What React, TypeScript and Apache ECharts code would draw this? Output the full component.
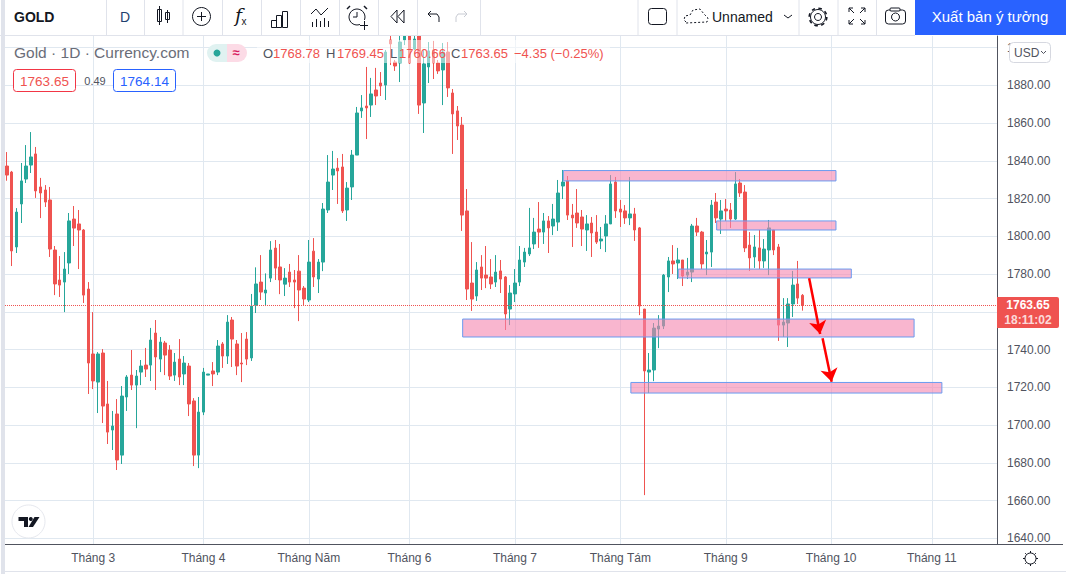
import React, { useEffect, useRef } from "react";
import * as echarts from "echarts";

const opens = [
  1837.3, 1834.1, 1794.4, 1817.2, 1830.4, 1837.8, 1843.7, 1826.2, 1824.6, 1819.3,
  1792.8, 1776.9, 1775.8, 1785.9, 1809.2, 1806.6, 1803.4, 1772.1, 1737.7, 1722.8,
  1738.2, 1711.2, 1697.4, 1705.9, 1684.1, 1714.9, 1726.5, 1721.2, 1728.1, 1731.8,
  1731.8, 1748.8, 1735, 1743.5, 1739.8, 1726.5, 1735, 1727.1, 1731.3, 1712.8,
  1684.1, 1706.9, 1726.5, 1728.7, 1728.1, 1743, 1736.6, 1755.7, 1743, 1732.9,
  1745.6, 1735.6, 1763.5, 1775.8, 1770, 1777.9, 1793.8, 1783.8, 1774.7, 1781.1,
  1776.9, 1781.6, 1772.6, 1766.3, 1792.2, 1777.4, 1786.4, 1814, 1832.5, 1836.2,
  1836.8, 1814, 1826.2, 1843.1, 1866.5, 1869.1, 1869.6, 1877.6, 1881.3, 1880.2,
  1904.1, 1892.4, 1891.9, 1904.1, 1907.3, 1899.3, 1909.4, 1870.7, 1889.8, 1898.8,
  1891.9, 1888.2, 1897.7, 1876, 1866.5, 1859, 1813.5, 1775.3, 1768.4, 1783.8,
  1779.5, 1778.5, 1775.8, 1781.7, 1778.5, 1761.5, 1769.5, 1775.8, 1786.4, 1790.7,
  1796, 1803.9, 1802.3, 1808.2, 1805.5, 1807.6, 1826.7, 1829.4, 1811.3, 1812.4,
  1810.3, 1803.4, 1807.1, 1802.3, 1797.6, 1800.2, 1806.6, 1828.8, 1814.5, 1813.5,
  1809.8, 1811.9, 1804.5, 1761.5, 1728.1, 1729.2, 1750.9, 1752.5, 1778.5, 1787,
  1785.9, 1787.5, 1779.5, 1781.1, 1805.5, 1802.3, 1790.7, 1791.7, 1818.2, 1809.2,
  1814.5, 1814, 1809.2, 1828.3, 1823.5, 1795.4, 1789.1, 1793.9, 1787, 1792.8,
  1803.4, 1794.4, 1753, 1754.1, 1764.2, 1774.8, 1768.78,
];
const closes = [
  1832.5, 1792.3, 1812.9, 1829.4, 1837.3, 1842.1, 1824.1, 1823, 1818.2, 1793.3,
  1774.8, 1774.2, 1782.7, 1808.2, 1804.4, 1803.4, 1768.9, 1732.9, 1723.4, 1737.7,
  1710.1, 1696.3, 1699.5, 1681.5, 1715.4, 1725.5, 1721.2, 1726, 1731.3, 1729.7,
  1745.1, 1736.1, 1744, 1737.1, 1726, 1733.4, 1725.5, 1732.9, 1711.2, 1684.1,
  1706.9, 1728.1, 1727.1, 1727.1, 1741.9, 1736.6, 1754.6, 1745.6, 1731.3, 1732.4,
  1735, 1763.1, 1774.8, 1770.5, 1771.6, 1792.8, 1783.2, 1776.9, 1777.9, 1775.8,
  1775.8, 1771.6, 1766.8, 1786.4, 1778.5, 1786.4, 1814.5, 1828.8, 1835.7, 1834.7,
  1813.5, 1825.6, 1843.1, 1865.4, 1868.1, 1868.1, 1875.5, 1874.4, 1879.7, 1897.7,
  1902, 1890.3, 1903, 1906.2, 1891.9, 1904.6, 1869.6, 1891.4, 1898.3, 1891.9,
  1887.7, 1897.7, 1878.7, 1864.9, 1858.5, 1811.3, 1772.1, 1766.8, 1782.2, 1777.9,
  1777.9, 1774.8, 1781.1, 1777.4, 1758.9, 1770, 1775.3, 1787.5, 1791.7, 1793.9,
  1802.3, 1802.3, 1808.2, 1804.5, 1809.2, 1823, 1828.8, 1811.3, 1809.8, 1807.1,
  1803.9, 1806.6, 1801.8, 1797, 1798.6, 1806.6, 1827.8, 1813.5, 1812.9, 1809.8,
  1811.9, 1803.4, 1763.1, 1728.7, 1729.2, 1751.4, 1752.5, 1779.5, 1787, 1785.4,
  1787.5, 1779, 1781.1, 1805.5, 1802.3, 1785.4, 1791.7, 1816.6, 1809.8, 1813.5,
  1813.5, 1809.2, 1827.8, 1823, 1793.9, 1788.6, 1794.4, 1787, 1793.3, 1804.5,
  1792.8, 1753, 1754.6, 1764.2, 1774.2, 1767.3, 1763.65,
];
const lows = [
  1829.5, 1784.3, 1791.2, 1807.1, 1828.3, 1833.6, 1820.4, 1809.7, 1815.6, 1789.1,
  1768.9, 1767.9, 1759.9, 1780.1, 1794.9, 1782.7, 1764.7, 1716.5, 1719.1, 1706.4,
  1701.1, 1690, 1686.8, 1676.2, 1679.4, 1707.5, 1718.6, 1698.4, 1721.2, 1725.5,
  1723.4, 1718.6, 1728.1, 1726.5, 1723.9, 1723.4, 1721.2, 1721.2, 1704.8, 1678.3,
  1677.2, 1705.3, 1726.5, 1720.7, 1726.5, 1730.3, 1732.4, 1730.8, 1726.5, 1722.8,
  1731.8, 1734, 1759.4, 1766.3, 1763.1, 1775.8, 1776.9, 1769.4, 1768.4, 1773.2,
  1762, 1755.1, 1763.6, 1765.2, 1773.2, 1770, 1781.6, 1812.4, 1824.6, 1817.2,
  1812.4, 1808.2, 1819.3, 1843.1, 1862.8, 1851.6, 1863.3, 1869.6, 1874.4, 1872.3,
  1890.8, 1887.7, 1881.8, 1901.4, 1891.4, 1898.8, 1864.9, 1854.8, 1881.3, 1883.4,
  1886.1, 1869.6, 1873.9, 1843.7, 1851.1, 1802.9, 1766.3, 1760.5, 1765.8, 1771.6,
  1772.6, 1772.1, 1773.2, 1770, 1750.4, 1753, 1765.2, 1773.7, 1783.8, 1789.6,
  1793.3, 1793.9, 1796, 1791.2, 1800.7, 1802.9, 1819.8, 1808.7, 1794.4, 1804.5,
  1794.9, 1792.3, 1789.1, 1796, 1793.3, 1791.7, 1806.6, 1809.8, 1805, 1806.6,
  1806, 1797.6, 1758.3, 1662.9, 1717, 1723.3, 1740.8, 1750.9, 1770.5, 1780.1,
  1777.4, 1773.7, 1777.4, 1775.8, 1800.2, 1782.7, 1779.5, 1783.8, 1807.1, 1801.3,
  1808.2, 1804.5, 1808.7, 1820.9, 1791.7, 1781.7, 1783.3, 1782.7, 1783.3, 1779.5,
  1790.1, 1744.6, 1746.7, 1741.4, 1757.3, 1764.2, 1760.66,
];
const highs = [
  1844.7, 1834.7, 1815, 1838.9, 1848.4, 1855.3, 1847.4, 1831, 1827.2, 1826.2,
  1794.9, 1789.6, 1791.7, 1812.4, 1816.1, 1814, 1803.9, 1775.8, 1759.9, 1738.7,
  1740.3, 1723.4, 1707.5, 1713.8, 1720.7, 1726.5, 1739.8, 1729.2, 1734.5, 1740.9,
  1751.5, 1755.7, 1746.7, 1744.6, 1742.4, 1738.2, 1745.6, 1736.6, 1732.9, 1714.3,
  1714.9, 1730.3, 1727.1, 1733.4, 1745.1, 1744, 1758.3, 1757.3, 1745.1, 1748.8,
  1749.3, 1769.5, 1783.6, 1790.1, 1780.4, 1797.5, 1798.1, 1796, 1783.2, 1785.4,
  1782.2, 1790.1, 1773.7, 1798.1, 1799.1, 1788, 1817.7, 1843.1, 1845.3, 1841.5,
  1843.7, 1828.8, 1845.8, 1868.6, 1874.9, 1889.8, 1884, 1889.3, 1887.1, 1898.8,
  1906.2, 1893.5, 1906.2, 1906.8, 1907.3, 1907.3, 1909.4, 1898.8, 1903, 1903.6,
  1893.5, 1902.5, 1903, 1878.1, 1869.1, 1863.3, 1825.1, 1797, 1786.4, 1790.1,
  1794.9, 1788, 1790.1, 1787.5, 1779, 1774.2, 1782.7, 1794.9, 1793.9, 1815.1,
  1809.8, 1818.2, 1812.4, 1810.8, 1817.2, 1829.9, 1835.2, 1832, 1817.2, 1825.1,
  1814, 1811.3, 1810.3, 1811.3, 1805, 1811.3, 1832.5, 1831.5, 1819.3, 1816.6,
  1831.5, 1815.1, 1805, 1761.5, 1738.2, 1754.1, 1758.3, 1780.1, 1789.1, 1795.4,
  1793.9, 1787.5, 1788.6, 1806.6, 1809.8, 1802.9, 1798.1, 1819.3, 1823, 1819.3,
  1819.8, 1817.7, 1834.1, 1830.4, 1827.2, 1802.3, 1800.7, 1803.4, 1798.6, 1808.7,
  1803.4, 1796, 1767.3, 1767.3, 1781.7, 1787, 1769.45,
];

const monthIndex = [18, 41, 63, 84, 106, 128, 150, 172, 193];
const monthNames = ["Tháng 3", "Tháng 4", "Tháng Năm", "Tháng 6", "Tháng 7", "Tháng Tám", "Tháng 9", "Tháng 10", "Tháng 11"];
const priceTicks = [1640, 1660, 1680, 1700, 1720, 1740, 1760, 1780, 1800, 1820, 1840, 1860, 1880, 1900];
// 1760.00 sits under the price tag in the reference, so it has no visible label.
const priceLabels = [1640, 1660, 1680, 1700, 1720, 1740, 1780, 1800, 1820, 1840, 1860, 1880, 1900];
const lastPrice = 1763.65;

// zones: [startIndex, endIndex, topPrice, bottomPrice]
const zones = [
  [116.1, 173.0, 1834.9, 1829.4],
  [148.1, 173.0, 1808.2, 1803.4],
  [140.1, 176.2, 1782.7, 1778.0],
  [95.1, 189.3, 1756.2, 1746.7],
  [130.2, 195.1, 1722.6, 1717.0],
];
// arrows: [startIndex, startPrice, endIndex, endPrice]
const arrows = [
  [167.4, 1777.8, 169.7, 1748.3],
  [170.2, 1746.0, 172.1, 1723.0],
];

const FONT = '"Liberation Sans", Arial, sans-serif';
const INK = "#131722";
const MUTED = "#50535e";
const EDGE = "#e0e3eb";
const RED = "#ef5350";
const GREEN = "#26a69a";
const GRID = "#e0e8f0";

function txt(text: string, x: number, y: number, size: number, fill: string, extra: any = {}) {
  const align = extra.align || "left";
  return {
    type: "text", x, y, z: 100, silent: true,
    style: {
      text, fill, align, textAlign: align, verticalAlign: "middle", textVerticalAlign: "middle",
      font: `${extra.style || "normal"} ${extra.weight || "normal"} ${size}px ${extra.family || FONT}`,
      opacity: extra.opacity ?? 1,
    },
  };
}
function ln(x1: number, y1: number, x2: number, y2: number, stroke = INK, lineWidth = 1, extra: any = {}) {
  return { type: "line", z: 100, silent: true, shape: { x1, y1, x2, y2 }, style: { stroke, lineWidth, ...extra } };
}
function box(x: number, y: number, width: number, height: number, fill: string, stroke?: string, r: any = 0, lineWidth = 1) {
  return { type: "rect", z: 100, silent: true, shape: { x, y, width, height, r }, style: { fill, stroke, lineWidth } };
}
function poly(points: number[][], stroke = INK, lineWidth = 1, extra: any = {}) {
  return { type: "polyline", z: 100, silent: true, shape: { points }, style: { stroke, lineWidth, fill: "none", ...extra } };
}
function pgon(points: number[][], fill = INK) {
  return { type: "polygon", z: 100, silent: true, shape: { points }, style: { fill } };
}
function circ(cx: number, cy: number, r: number, stroke = INK, fill = "none", lineWidth = 1, extra: any = {}) {
  return { type: "circle", z: 100, silent: true, shape: { cx, cy, r }, style: { stroke, fill, lineWidth, ...extra } };
}

function chrome() {
  const seps = [106, 144, 182.5, 222, 261, 300, 339, 378, 417, 480, 637.5, 676.5, 798.5, 837.5, 876];
  const items: any[] = [
    box(0, 0, 1066, 35, "#ffffff"),
    box(1, 0, 4, 574, EDGE),
    ln(0, 35.5, 915, 35.5, EDGE),
    ln(5, 571.5, 1066, 571.5, EDGE),
    ln(997, 544.5, 1063, 544.5, MUTED),
    ...seps.map((x) => ln(x + 0.5, 0, x + 0.5, 35, EDGE)),
    txt("GOLD", 14, 16.5, 14, INK, { weight: "bold" }),
    txt("D", 125, 17, 14, "#1f3f6e", { align: "center" }),
    // candles icon
    box(157.5, 9.5, 4, 12, "none", INK), ln(159.5, 6, 159.5, 25),
    box(165.5, 12.5, 4, 7, "none", INK), ln(167.5, 10, 167.5, 23),
    // plus circle
    circ(201.5, 16.5, 9), ln(197, 16.5, 206, 16.5), ln(201.5, 12, 201.5, 21),
    // fx
    txt("f", 235, 15, 19, INK, { family: '"DejaVu Serif", serif', style: "italic" }),
    txt("x", 241.5, 21, 10, INK),
    // bars icon
    box(271.5, 20.5, 5, 7, "none", INK), box(276.5, 15.5, 5, 12, "none", INK), box(282.5, 11.5, 5, 16, "none", INK),
    // indicator icon
    poly([[311, 14], [316, 9], [321, 15], [328, 8]]),
    ...[312, 316, 320, 324, 328].map((x, i) => ln(x + 0.5, [22, 19, 21, 18, 21][i], x + 0.5, 27)),
    // alarm
    circ(357, 17, 8), poly([[357, 12], [357, 17], [353, 17]]), poly([[350, 6], [347, 9]], INK, 1.5), poly([[364, 6], [367, 9]], INK, 1.5),
    box(360, 20, 8, 8, "#ffffff"), ln(360, 25.5, 368, 25.5), ln(364.5, 21, 364.5, 30),
    // replay
    poly([[397, 10], [391, 16.5], [397, 23], [397, 10]]), poly([[404, 10], [398, 16.5], [404, 23], [404, 10]]),
    // undo / redo
    poly([[437, 14], [428, 14], [431, 11]]), poly([[428, 14], [431, 17]]), poly([[437, 14], [439, 17], [439, 22]]),
    poly([[458, 14], [467, 14], [464, 11]], "#c8cbd3"), poly([[467, 14], [464, 17]], "#c8cbd3"), poly([[458, 14], [456, 17], [456, 22]], "#c8cbd3"),
    // right toolbar
    box(648.5, 8.5, 18, 16, "none", INK, 3),
    poly([[686, 22], [684, 20], [685, 16], [690, 15], [693, 10], [700, 9], [704, 14], [708, 18], [707, 22], [686, 23]], INK, 1, { lineDash: [2, 2] }),
    txt("Unnamed", 712, 16.5, 14, INK),
    poly([[784, 15], [788, 18], [792, 15]]),
    circ(818, 17, 3.5), circ(818, 17, 7.5), circ(818, 17, 8.8, INK, "none", 1.6, { lineDash: [3.5, 3.4] }),
    poly([[849, 12], [849, 8], [853, 8]]), ln(849, 8, 854, 13), poly([[865, 12], [865, 8], [861, 8]]), ln(865, 8, 860, 13),
    poly([[849, 20], [849, 24], [853, 24]]), ln(849, 24, 854, 19), poly([[865, 20], [865, 24], [861, 24]]), ln(865, 24, 860, 19),
    box(885.5, 10, 20, 14, "none", INK, 3), box(890, 8, 10, 3, "#ffffff", INK, 1), circ(895.5, 17, 4),
    box(915, 0, 151, 35, "#2962ff"),
    txt("Xuất bản ý tưởng", 990, 16.5, 15, "#ffffff", { align: "center" }),
    // legend
    box(257, 40, 353, 23, "rgba(255,255,255,0.5)"),
    txt("Gold · 1D · Currency.com", 14, 52.5, 15.5, "#6a6d78"),
    { type: "rect", z: 100, silent: true, shape: { x: 207, y: 44, width: 20, height: 18, r: [9, 0, 0, 9] }, style: { fill: "#e0f2f1" } },
    { type: "rect", z: 100, silent: true, shape: { x: 227, y: 44, width: 20, height: 18, r: [0, 9, 9, 0] }, style: { fill: "#fcdbe6" } },
    circ(217, 53, 3.5, GREEN, GREEN, 0),
    txt("≈", 236, 52, 13, "#d81b60", { align: "center", weight: "bold" }),
    txt("O", 263, 53, 13, MUTED), txt("1768.78", 273, 53, 13, RED),
    txt("H", 326, 53, 13, MUTED), txt("1769.45", 337, 53, 13, RED),
    txt("L", 390, 53, 13, MUTED), txt("1760.66", 399, 53, 13, RED),
    txt("C", 451, 53, 13, MUTED), txt("1763.65", 461, 53, 13, RED),
    txt("−4.35 (−0.25%)", 514, 53, 13, RED),
    box(13.5, 69.5, 62, 22, "#ffffff", "#f23645", 3),
    txt("1763.65", 44.5, 81, 13.5, RED, { align: "center" }),
    txt("0.49", 95, 81, 11, MUTED, { align: "center" }),
    box(113.5, 69.5, 62, 22, "#ffffff", "#2962ff", 3),
    txt("1764.14", 144.5, 81, 13.5, "#2962ff", { align: "center" }),
    // USD
    box(1009.5, 42.5, 41, 20, "#ffffff", "#d6d8e0", 4),
    txt("USD", 1014, 52.5, 12, MUTED),
    poly([[1041, 51], [1043.5, 53.5], [1046, 51]], MUTED),
    // price tag
    box(997, 297, 62, 31, RED, undefined, [0, 2, 2, 0]),
    txt("1763.65", 1028, 305, 12, "#ffffff", { align: "center", weight: "bold" }),
    txt("18:11:02", 1028, 320, 12, "#ffffff", { align: "center", weight: "bold", opacity: 0.8 }),
    // axis settings
    circ(1030.5, 558.5, 5.5),
    ...[0, 45, 90, 135, 180, 225, 270, 315].map((d) => {
      const a = (d * Math.PI) / 180;
      return ln(1030.5 + 5.5 * Math.cos(a), 558.5 + 5.5 * Math.sin(a), 1030.5 + 7.5 * Math.cos(a), 558.5 + 7.5 * Math.sin(a));
    }),
    // TradingView badge
    circ(28.5, 521.5, 16.5, "#e6e8ee", "#ffffff"),
    pgon([[18.5, 517], [28, 517], [28, 527], [24, 527], [24, 521], [18.5, 521]], INK),
    circ(30.8, 519, 2, INK, INK, 0),
    pgon([[34.5, 517], [39.5, 517], [33, 527], [28.5, 527]], INK),
  ];
  return items;
}

export default function App() {
  const ref = useRef<HTMLDivElement>(null);
  useEffect(() => {
    const chart = echarts.init(ref.current!, undefined, { renderer: "svg" });
    chart.setOption({
      animation: false,
      backgroundColor: "#ffffff",
      grid: { left: 5, right: 69, top: 36, bottom: 30, containLabel: false },
      xAxis: {
        type: "value",
        min: -0.4,
        max: 206.6,
        axisLine: { show: true, onZero: false, lineStyle: { color: MUTED, width: 1 } },
        axisTick: { show: false, customValues: monthIndex },
        axisLabel: {
          customValues: monthIndex,
          color: MUTED,
          fontFamily: FONT,
          fontSize: 12,
          margin: 8,
          hideOverlap: false,
          showMinLabel: true,
          showMaxLabel: true,
          formatter: (v: number) => monthNames[monthIndex.indexOf(v)] ?? "",
        },
        splitLine: { show: true, lineStyle: { color: GRID, width: 1 } },
      },
      yAxis: {
        type: "value",
        position: "right",
        min: 1637,
        max: 1906.2,
        axisLine: { show: true, onZero: false, lineStyle: { color: MUTED, width: 1 } },
        axisTick: { show: false, customValues: priceTicks },
        axisLabel: {
          customValues: priceLabels,
          color: MUTED,
          fontFamily: FONT,
          fontSize: 12,
          margin: 10,
          formatter: (v: number) => v.toFixed(2),
        },
        splitLine: { show: true, lineStyle: { color: GRID, width: 1 } },
      },
      series: [
        {
          type: "candlestick",
          z: 2,
          silent: true,
          clip: true,
          barWidth: 3,
          progressive: 0,
          itemStyle: { color: GREEN, color0: RED, borderColor: GREEN, borderColor0: RED, borderWidth: 1 },
          data: opens.map((o, i) => [i, o, closes[i], lows[i], highs[i]]),
        },
        {
          type: "line",
          z: 4,
          silent: true,
          data: [],
          markArea: {
            silent: true,
            z: 4,
            itemStyle: { color: "rgba(245,133,175,0.6)", borderColor: "#6a9bf0", borderWidth: 1 },
            data: zones.map(([x1, x2, y1, y2]) => [{ coord: [x1, y1] }, { coord: [x2, y2] }]),
          },
        },
        {
          type: "line",
          z: 5,
          silent: true,
          data: [],
          markLine: {
            silent: true,
            z: 5,
            symbol: "none",
            label: { show: false },
            lineStyle: { color: RED, type: "dotted", width: 1 },
            data: [{ yAxis: lastPrice }],
          },
        },
        {
          type: "line",
          z: 6,
          silent: true,
          data: [],
          markLine: {
            silent: true,
            z: 6,
            symbol: ["none", "arrow"],
            symbolSize: 13,
            label: { show: false },
            lineStyle: { color: "#ff0000", type: "solid", width: 2.5 },
            data: arrows.map(([x1, y1, x2, y2]) => [{ coord: [x1, y1] }, { coord: [x2, y2] }]),
          },
        },
      ],
      graphic: { elements: chrome() },
    });
    return () => chart.dispose();
  }, []);
  return (
    <div
      ref={ref}
      style={{ position: "fixed", left: 0, top: 0, width: 1066, height: 574, background: "#fff" }}
    />
  );
}
